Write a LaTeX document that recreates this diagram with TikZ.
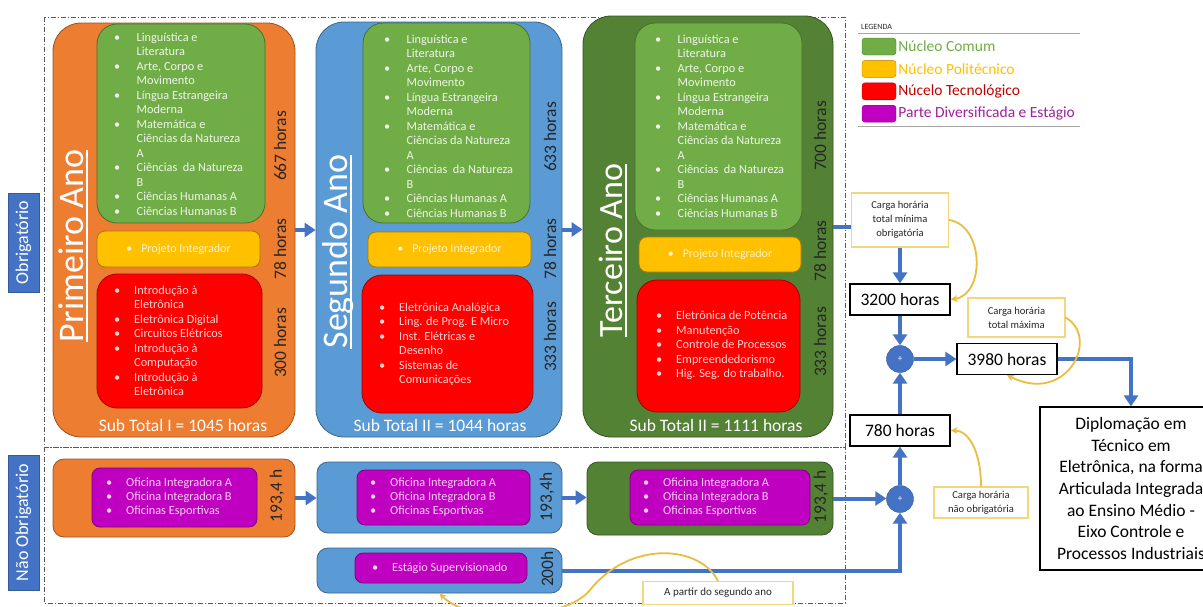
\documentclass[tikz,border=0pt]{standalone}
\usepackage{fontspec}
\setmainfont{Carlito}
\usetikzlibrary{arrows.meta,positioning}

\definecolor{orangeyear}{HTML}{ED7D31}
\definecolor{blueyear}{HTML}{5B9BD5}
\definecolor{greenyear}{HTML}{548235}
\definecolor{nucleo}{HTML}{70AD47}
\definecolor{politec}{HTML}{FFC000}
\definecolor{tecno}{HTML}{FF0000}
\definecolor{diversa}{HTML}{C000C0}
\definecolor{flowblue}{HTML}{4472C4}
\definecolor{notegold}{HTML}{E9BE3E}
\definecolor{noteedge}{HTML}{F2D77C}
\definecolor{hourdark}{HTML}{262626}
\definecolor{greentext}{HTML}{EEF5E9}
\definecolor{redtext}{HTML}{FFD3D3}
\definecolor{magtext}{HTML}{F8D2F2}
\definecolor{yeltext}{HTML}{FFF2CC}
\definecolor{legred}{HTML}{C00000}
\definecolor{legpurple}{HTML}{A0209F}

\newcommand{\bl}{\makebox[20pt][l]{\textbullet}}
\newcommand{\ct}{\hspace*{20pt}}
\newcommand{\gbl}{\makebox[22.5pt][l]{\textbullet}}
\newcommand{\gct}{\hspace*{22.5pt}}
\newcommand{\anotitle}[1]{\setbox0\hbox{#1}\rlap{\rule[-4.5pt]{\wd0}{1.6pt}}\box0}
\newcommand{\comumlist}{\gbl Linguística e\\ \gct Literatura\\ \gbl Arte, Corpo e\\ \gct Movimento\\
  \gbl Língua Estrangeira\\ \gct Moderna\\ \gbl Matemática e\\ \gct Ciências da Natureza\\ \gct A\\
  \gbl Ciências\ \ da Natureza\\ \gct B\\ \gbl Ciências Humanas A\\ \gbl Ciências Humanas B}
\newcommand{\oficinalist}{\bl Oficina Integradora A\\ \bl Oficina Integradora B\\ \bl Oficinas Esportivas}

\tikzset{
  regionframe/.style={draw=black!65, line width=0.8pt, dash pattern=on 5pt off 2pt on 1pt off 2pt},
  sidebox/.style={rotate=90, fill=flowblue, draw=flowblue!80!black, text=white, inner sep=0pt,
    font=\fontsize{18}{20}\selectfont},
  yearbox/.style={draw=#1!65!black, fill=#1, line width=0.8pt, rounded corners=28pt, inner sep=0pt},
  workbox/.style={draw=#1!65!black, fill=#1, line width=0.8pt, rounded corners=11pt, inner sep=0pt},
  innerbox/.style={draw=#1!65!black, fill=#1, line width=0.8pt, rounded corners=20pt, inner sep=0pt},
  smallbox/.style={draw=#1!65!black, fill=#1, line width=0.8pt, rounded corners=8pt, inner sep=0pt},
  projbox/.style={smallbox=politec, text=yeltext, font=\fontsize{12}{14}\selectfont},
  greenlist/.style={anchor=west, align=left, inner sep=0pt, text=greentext, font=\fontsize{12.3}{14.5}\selectfont},
  redlist/.style={anchor=west, align=left, inner sep=0pt, text=redtext, font=\fontsize{12.3}{14.5}\selectfont},
  maglist/.style={anchor=west, align=left, inner sep=0pt, text=magtext, font=\fontsize{12.3}{14}\selectfont},
  yeartitle/.style={rotate=90, anchor=base, inner sep=0pt, text=white, font=\fontsize{36}{40}\selectfont},
  hourlab/.style={rotate=90, inner sep=0pt, text=hourdark, font=\fontsize{17.5}{20}\selectfont},
  subtotal/.style={inner sep=0pt, text=white, font=\fontsize{17.5}{20}\selectfont},
  totalbox/.style={draw=black, fill=white, line width=1.2pt, inner sep=0pt, minimum width=100,
    minimum height=31, font=\fontsize{17.5}{20}\selectfont},
  sumnode/.style={circle, fill=flowblue, draw=flowblue!75!black, text=white, inner sep=0pt,
    minimum size=27, font=\fontsize{9}{9}\selectfont},
  notebox/.style={draw=noteedge, fill=white, line width=1.1pt, inner sep=0pt, align=center,
    text=hourdark, font=\fontsize{10.6}{14}\selectfont},
  dipbox/.style={draw=black, fill=white, line width=1.2pt, inner sep=0pt, align=center,
    minimum width=182, minimum height=163, font=\fontsize{17.5}{21.7}\selectfont},
  legswatch/.style={draw=#1!70!black, fill=#1, rounded corners=3pt, inner sep=0pt,
    minimum width=34, minimum height=17},
  legtext/.style={inner sep=0pt, font=\fontsize{15.5}{17}\selectfont},
  flow/.style={draw=flowblue, line width=4pt, -{Triangle[length=11pt,width=14pt]}},
  flowline/.style={draw=flowblue, line width=4pt},
  notearrow/.style={draw=notegold, line width=1.8pt, -{Stealth[length=7pt,width=7pt]}}
}

\begin{document}
\begin{tikzpicture}[x=1pt, y=-1pt]
\useasboundingbox (0,0) rectangle (1203,606);
\fill[white] (0,0) rectangle (1203,606);
\clip (0,0) rectangle (1203,606);

\draw[regionframe] (44,17) rectangle (845,447);
\draw[regionframe] (44,447) rectangle (845,603);

\node[sidebox, minimum width=99, minimum height=31] (obr) at (23.5,242.5) {Obrigatório};
\node[sidebox, minimum width=135, minimum height=31] (naoobr) at (23.5,522.5) {Não Obrigatório};

\node[yearbox=orangeyear, minimum width=242, minimum height=414] (ano1) at (174,230) {};
\node[yearbox=blueyear, minimum width=246, minimum height=415] (ano2) at (439,229.5) {};
\node[yearbox=greenyear, minimum width=250, minimum height=421] (ano3) at (708,226.5) {};

\node[innerbox=nucleo, minimum width=168, minimum height=199] (nc1) at (181,123.5) {};
\node[innerbox=nucleo, minimum width=167, minimum height=200] (nc2) at (446.5,123) {};
\node[innerbox=nucleo, minimum width=167, minimum height=207] (nc3) at (718.5,126.5) {};
\node[projbox, minimum width=163, minimum height=36] (pi1) at (178.5,249) {\textbullet\hspace{9pt}Projeto Integrador};
\node[projbox, minimum width=163, minimum height=35] (pi2) at (449.5,249.5) {\textbullet\hspace{9pt}Projeto Integrador};
\node[projbox, minimum width=162, minimum height=35] (pi3) at (720,254.5) {\textbullet\hspace{9pt}Projeto Integrador};
\node[innerbox=tecno, minimum width=165, minimum height=134] (nt1) at (179.5,341) {};
\node[innerbox=tecno, minimum width=171, minimum height=138] (nt2) at (447.5,344) {};
\node[innerbox=tecno, minimum width=163, minimum height=132] (nt3) at (718.5,346) {};

\node[greenlist] (lc1) at (114,124) {\comumlist};
\node[greenlist] (lc2) at (384,126) {\comumlist};
\node[greenlist] (lc3) at (655,126) {\comumlist};
\node[redlist] (lt1) at (114,341) {\bl Introdução à\\ \ct Eletrônica\\ \bl Eletrônica Digital\\
  \bl Circuitos Elétricos\\ \bl Introdução à\\ \ct Computação\\ \bl Introdução à\\ \ct Eletrônica};
\node[redlist] (lt2) at (379,344.5) {\bl Eletrônica Analógica\\ \bl Ling. de Prog. E Micro\\
  \bl Inst. Elétricas e\\ \ct Desenho\\ \bl Sistemas de\\ \ct Comunicações};
\node[redlist] (lt3) at (656,345.5) {\bl Eletrônica de Potência\\ \bl Manutenção\\
  \bl Controle de Processos\\ \bl Empreendedorismo\\ \bl Hig. Seg. do trabalho.};

\node[yeartitle] (t1) at (83,246) {\anotitle{Primeiro Ano}};
\node[yeartitle] (t2) at (347,251.5) {\anotitle{Segundo Ano}};
\node[yeartitle, font=\fontsize{34}{38}\selectfont] (t3) at (622,250.5) {\anotitle{Terceiro Ano}};

\node[hourlab] (hc1) at (280,146) {667 horas};
\node[hourlab] (hp1) at (280,249) {78 horas};
\node[hourlab] (ht1) at (280,343) {300 horas};
\node[hourlab] (hc2) at (550,137) {633 horas};
\node[hourlab] (hp2) at (550,249) {78 horas};
\node[hourlab] (ht2) at (550,337) {333 horas};
\node[hourlab] (hc3) at (820,136) {700 horas};
\node[hourlab] (hp3) at (820,251) {78 horas};
\node[hourlab] (ht3) at (820,342) {333 horas};

\node[subtotal] (st1) at (183,425) {Sub Total I = 1045 horas};
\node[subtotal] (st2) at (440,425) {Sub Total II = 1044 horas};
\node[subtotal] (st3) at (716,425) {Sub Total II = 1111 horas};

\node[workbox=orangeyear, minimum width=242, minimum height=78] (of1) at (174,498) {};
\node[workbox=blueyear, minimum width=245, minimum height=71] (of2) at (439.5,497.5) {};
\node[workbox=greenyear, minimum width=246, minimum height=73] (of3) at (710,498.5) {};
\node[workbox=blueyear, minimum width=245, minimum height=45] (est) at (439.5,570.5) {};
\node[smallbox=diversa, minimum width=165, minimum height=59] (dv1) at (174.5,497.5) {};
\node[smallbox=diversa, minimum width=173, minimum height=55] (dv2) at (443.5,497.5) {};
\node[smallbox=diversa, minimum width=180, minimum height=55] (dv3) at (720,497.5) {};
\node[smallbox=diversa, minimum width=172, minimum height=30] (dv4) at (441,568) {};
\node[maglist] (lo1) at (106,497) {\oficinalist};
\node[maglist] (lo2) at (370,497.5) {\oficinalist};
\node[maglist] (lo3) at (643,497) {\oficinalist};
\node[maglist] (lo4) at (372,568) {\bl Estágio Supervisionado};
\node[hourlab] (ho1) at (277,496) {193,4 h};
\node[hourlab] (ho2) at (547,497) {193,4h};
\node[hourlab] (ho3) at (821,497) {193,4 h};
\node[hourlab] (hes) at (547,569) {200h};

\node[font=\fontsize{8}{9}\selectfont, text=hourdark, inner sep=0pt, anchor=west] (leg) at (861,27) {LEGENDA};
\draw[black!35] (858,33) -- (1080,33);
\node[legswatch=nucleo] (sw1) at (879,46.5) {};
\node[legswatch=politec, below=5pt of sw1] (sw2) {};
\node[legswatch=tecno, below=5pt of sw2] (sw3) {};
\node[legswatch=diversa, below=5pt of sw3] (sw4) {};
\node[legtext, text=nucleo, right=2pt of sw1] (lg1) {Núcleo Comum};
\node[legtext, text=politec, right=2pt of sw2] (lg2) {Núcleo Politécnico};
\node[legtext, text=legred, right=2pt of sw3] (lg3) {Núcelo Tecnológico};
\node[legtext, text=legpurple, right=2pt of sw4] (lg4) {Parte Diversificada e Estágio};
\draw[black!35] (858,126) -- (1080,126);

\node[notebox, minimum width=97, minimum height=54] (cmin) at (900,220) {Carga horária\\total mínima\\obrigatória};
\node[totalbox] (h3200) at (900,299.5) {3200 horas};
\node[sumnode] (sum1) at (900,359) {+};
\node[totalbox] (h3980) at (1007,359) {3980 horas};
\node[notebox, minimum width=97, minimum height=39] (cmax) at (1016.5,317.5) {Carga horária\\total máxima};
\node[totalbox] (h780) at (900,430.5) {780 horas};
\node[sumnode] (sum2) at (900,499) {+};
\node[notebox, minimum width=94, minimum height=31] (cnao) at (981,502.5) {Carga horária\\não obrigatória};
\node[notebox, minimum width=150, minimum height=23, font=\fontsize{11}{13}\selectfont] (apartir) at (718,593) {A partir do segundo ano};
\node[dipbox] (dip) at (1131,488.5) {Diplomação em\\Técnico em\\Eletrônica, na forma\\Articulada Integrada\\ao Ensino Médio -\\Eixo Controle e\\Processos Industriais};

\draw[flow] (ano1.east) -- (ano1.east -| ano2.west);
\draw[flow] (ano2.east) -- (ano2.east -| ano3.west);
\draw[flowline] (ano3.east) -- (ano3.east -| cmin.west);
\draw[flow] (cmin) -- (h3200);
\draw[flow] (h3200) -- (sum1);
\draw[flow] (sum1) -- (h3980);
\draw[flow] (h3980.east) -| (dip.north);
\draw[flow] (h780) -- (sum1);
\draw[flow] (sum2) -- (h780);
\draw[flow] (of1.east) -- (of1.east -| of2.west);
\draw[flow] (of2.east) -- (of2.east -| of3.west);
\draw[flow] (of3.east) -- (of3.east -| sum2.west);
\draw[flow] (est.east) -| (sum2.south);

\draw[notearrow] (cmin.east) .. controls +(35,5) and +(35,-5) .. (h3200.east);
\draw[notearrow] (cmax.east) .. controls +(35,20) and +(60,30) .. (h3980.south);
\draw[notearrow] (cnao.north) .. controls +(0,-35) and +(18,0) .. (h780.east);
\draw[notearrow] (apartir.north) .. controls (700,545) and (630,540) .. (590,590) .. controls (566,620) and (470,625) .. (est.south);
\end{tikzpicture}
\end{document}
